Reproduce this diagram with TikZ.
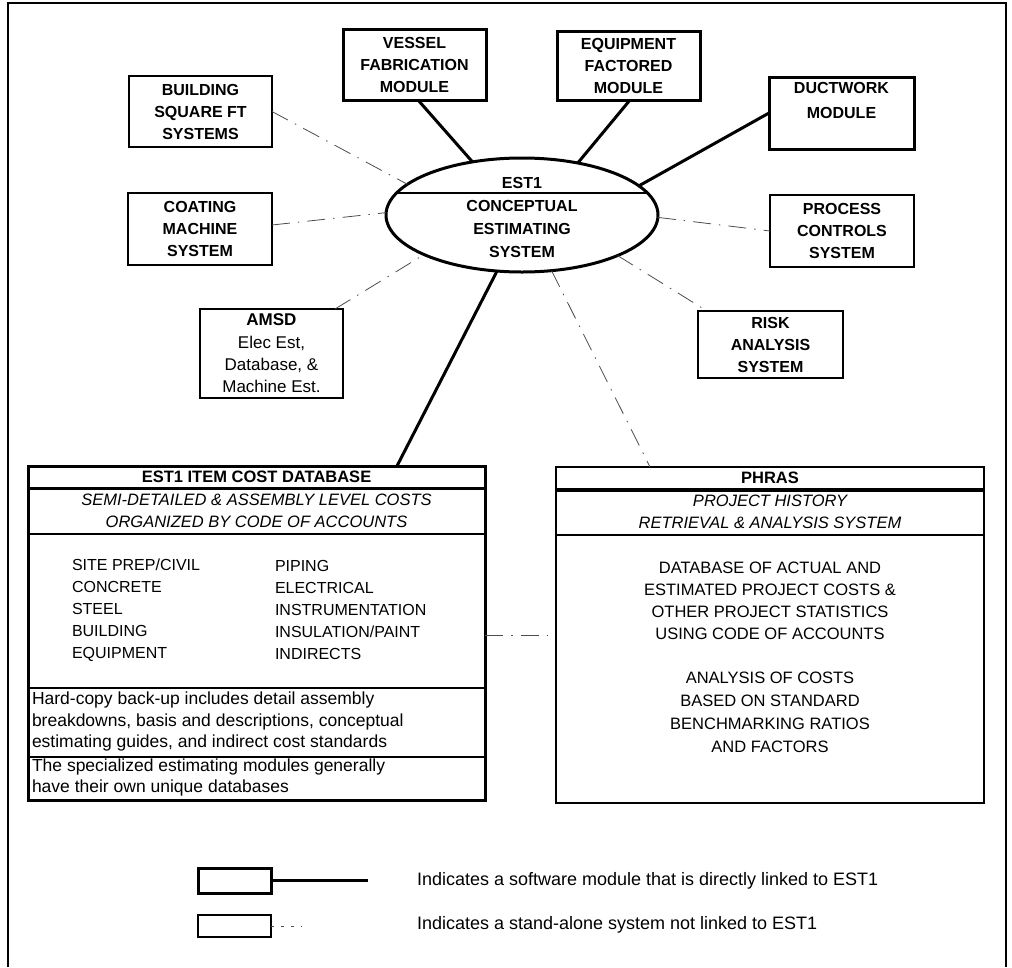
\documentclass[tikz,border=0pt]{standalone}
\usepackage{fontspec}
\setmainfont{Liberation Sans}
\usetikzlibrary{shapes.geometric}
\begin{document}
\begin{tikzpicture}[x=1pt,y=-1pt,
  every node/.style={inner sep=0pt, outer sep=0pt},
  modbox/.style={draw, line width=3pt, align=center, font=\bfseries\fontsize{16}{22}\selectfont},
  sysbox/.style={draw, line width=1.5pt, align=center, font=\bfseries\fontsize{16}{22}\selectfont},
  link/.style={line width=3pt},
  loose/.style={line width=0.8pt, black!70, dash pattern=on 18pt off 8pt on 1.5pt off 8pt},
  boldtxt/.style={font=\bfseries\fontsize{16.5}{22}\selectfont, align=center},
  itltxt/.style={font=\itshape\fontsize{16.5}{22}\selectfont, align=center},
  captxt/.style={font=\fontsize{16}{22}\selectfont, align=left, anchor=west},
  bodytxt/.style={font=\fontsize{16.5}{22}\selectfont, align=center},
  notetxt/.style={font=\fontsize{17.5}{21.5}\selectfont, align=left, anchor=west},
  legtxt/.style={font=\fontsize{18}{20}\selectfont, anchor=west}
]
\useasboundingbox (0,0) rectangle (1012,967);
% frame
\draw[line width=1.2pt] (8,967) -- (8,3) -- (1006,3) -- (1006,967);

% central ellipse
\node[draw, ellipse, line width=3pt, minimum width=272pt, minimum height=114pt] (ell) at (522,215) {};
\draw[line width=1.4pt] (396.5,193) -- (647.5,193);
\node[font=\bfseries\fontsize{16}{22}\selectfont] (elltitle) at (522,183) {EST1};
\node[font=\bfseries\fontsize{16}{23}\selectfont, align=center] (elltxt) at (522,229) {CONCEPTUAL\\ESTIMATING\\SYSTEM};

% modules (linked)
\node[modbox, minimum width=143pt, minimum height=71pt] (vessel) at (414.5,64.5) {VESSEL\\FABRICATION\\MODULE};
\node[modbox, minimum width=143pt, minimum height=69pt] (equip) at (628.5,65.5) {EQUIPMENT\\FACTORED\\MODULE};
\node[modbox, minimum width=145pt, minimum height=72pt] (duct) at (841.5,113) {};
\node[font=\bfseries\fontsize{16}{25}\selectfont, align=center] (ducttxt) at (841.5,100.5) {DUCTWORK\\MODULE};

% stand-alone systems
\node[sysbox, minimum width=143pt, minimum height=71pt] (bldg) at (200.5,111.5) {BUILDING\\SQUARE FT\\SYSTEMS};
\node[sysbox, minimum width=144pt, minimum height=72pt] (coat) at (200,229) {COATING\\MACHINE\\SYSTEM};
\node[sysbox, minimum width=143pt, minimum height=89pt, font=\fontsize{17}{22.3}\selectfont] (amsd) at (271.5,353.5) {\textbf{AMSD}\\Elec Est,\\Database, \&\\Machine Est.};
\node[sysbox, minimum width=144pt, minimum height=72pt] (proc) at (842,231) {PROCESS\\CONTROLS\\SYSTEM};
\node[sysbox, minimum width=145pt, minimum height=67pt] (risk) at (770.5,344.5) {RISK\\ANALYSIS\\SYSTEM};

% EST1 item cost database
\node[draw, line width=3pt, minimum width=457pt, minimum height=334pt] (db) at (256.5,633) {};
\draw[line width=3pt] (db.west |- 0,488) -- (db.east |- 0,488);
\draw[line width=2.5pt] (db.west |- 0,534) -- (db.east |- 0,534);
\draw[line width=2.5pt] (db.west |- 0,688) -- (db.east |- 0,688);
\draw[line width=1.5pt] (db.west |- 0,757) -- (db.east |- 0,757);
\node[boldtxt] (dbtitle) at (256.5,477) {EST1 ITEM COST DATABASE};
\node[itltxt] (dbsub) at (256.5,511) {SEMI-DETAILED \& ASSEMBLY LEVEL COSTS\\ORGANIZED BY CODE OF ACCOUNTS};
\node[captxt] (dbcol1) at (72,610) {SITE PREP/CIVIL\\CONCRETE\\STEEL\\BUILDING\\EQUIPMENT};
\node[captxt] (dbcol2) at (275,610) {PIPING\\ELECTRICAL\\INSTRUMENTATION\\INSULATION/PAINT\\INDIRECTS};
\node[notetxt] (dbnote1) at (32,721.5) {Hard-copy back-up includes detail assembly\\breakdowns, basis and descriptions, conceptual\\estimating guides, and indirect cost standards};
\node[notetxt] (dbnote2) at (32,777.5) {The specialized estimating modules generally\\have their own unique databases};

% PHRAS
\node[draw, line width=2pt, minimum width=428pt, minimum height=336pt] (phras) at (770,635) {};
\draw[line width=4pt] (phras.west |- 0,490) -- (phras.east |- 0,490);
\draw[line width=2pt] (phras.west |- 0,535) -- (phras.east |- 0,535);
\node[boldtxt] (phtitle) at (770,478) {PHRAS};
\node[itltxt] (phsub) at (770,512) {PROJECT HISTORY\\RETRIEVAL \& ANALYSIS SYSTEM};
\node[bodytxt] (phbody1) at (770,601) {DATABASE OF ACTUAL AND\\ESTIMATED PROJECT COSTS \&\\OTHER PROJECT STATISTICS\\USING CODE OF ACCOUNTS};
\node[font=\fontsize{16.5}{23}\selectfont, align=center] (phbody2) at (770,712.5) {ANALYSIS OF COSTS\\BASED ON STANDARD\\BENCHMARKING RATIOS\\AND FACTORS};

% connectors
\draw[link] ([xshift=3.5pt]vessel.south) -- (ell.133);
\draw[link] ([xshift=1.5pt]equip.south) -- (ell.43);
\draw[link] (duct.west) -- (ell.14);
\draw[link] (ell.246) -- ([xshift=140.5pt]db.north);
\draw[loose] (bldg.east) -- (ell.165);
\draw[loose] ([yshift=4pt]coat.east) -- (ell.179);
\draw[loose] ([xshift=-8pt]amsd.north east) -- (ell.202);
\draw[loose] (ell.-1) -- (proc.west);
\draw[loose] (ell.-23) -- ([xshift=9pt]risk.north west);
\draw[loose] (ell.298) -- ([xshift=-120pt]phras.north);
\draw[loose] ([yshift=-2pt]db.east) -- (phras.west);

% legend
\node[draw, line width=3pt, minimum width=73pt, minimum height=25pt] (leg1) at (234.5,880.5) {};
\coordinate (leg1end) at (368,880.5);
\draw[link] (leg1.east) -- (leg1end);
\node[draw, line width=1.5pt, minimum width=73pt, minimum height=22pt] (leg2) at (234.5,926) {};
\coordinate (leg2end) at (302,926);
\draw[line width=0.8pt, black!70, dash pattern=on 3pt off 7pt] (leg2.east) -- (leg2end);
\node[legtxt] (leg1txt) at (417,880.5) {Indicates a software module that is directly linked to EST1};
\node[legtxt] (leg2txt) at (417,925) {Indicates a stand-alone system not linked to EST1};
\end{tikzpicture}
\end{document}
